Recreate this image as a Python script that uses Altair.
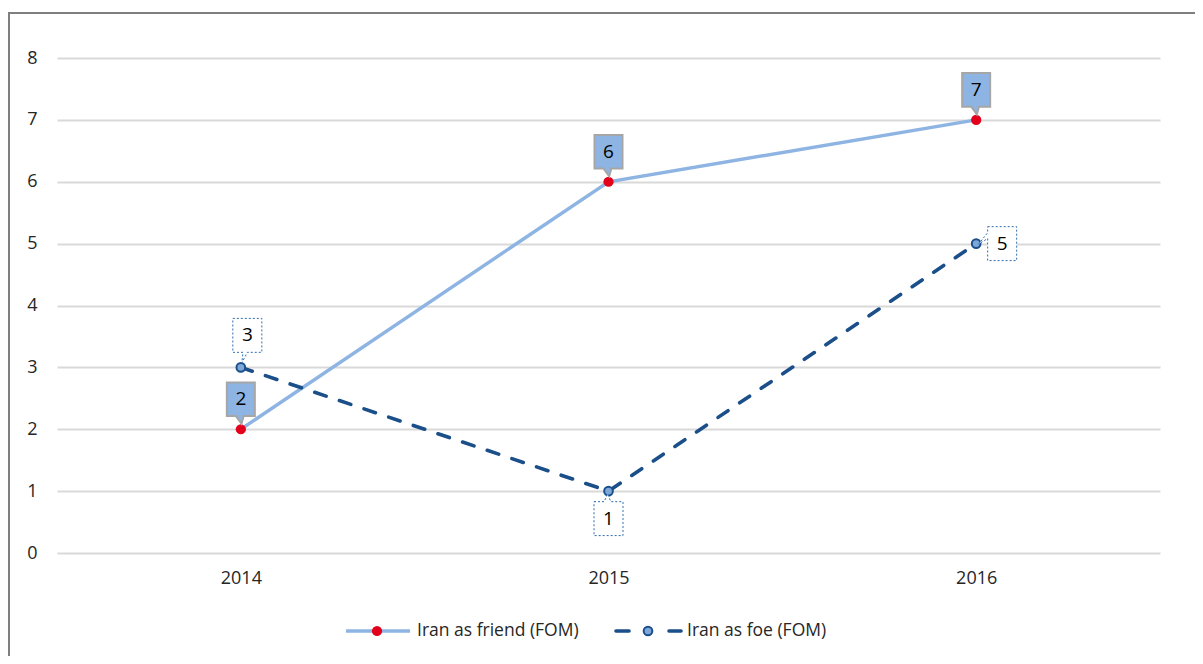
import altair as alt
import pandas as pd

years = ["2014", "2015", "2016"]
friend_values = [2, 6, 7]
foe_values = [3, 1, 5]
series_names = ["Iran as friend (FOM)", "Iran as foe (FOM)"]
y_ticks = [0, 1, 2, 3, 4, 5, 6, 7, 8]

FRIEND_LINE = "#8DB4E2"
FRIEND_DOT = "#E3001B"
FOE_LINE = "#1B4F8A"
FOE_DOT = "#7DA7D9"
FONT = "Open Sans"
TXT = "#262626"

df = pd.DataFrame({
    "year": years * 2,
    "value": friend_values + foe_values,
    "series": [series_names[0]] * 3 + [series_names[1]] * 3,
})

W, H = 1103, 495

x_enc = alt.X("year:O", scale=alt.Scale(type="point", padding=0.5),
              axis=alt.Axis(title=None, labelAngle=0, grid=False, domain=False, ticks=False,
                            labelPadding=16, labelFontSize=18, labelFont=FONT, labelColor=TXT))
y_enc = alt.Y("value:Q", scale=alt.Scale(domain=[0, 8], nice=False),
              axis=alt.Axis(title=None, values=y_ticks, grid=True, gridColor="#D9D9D9", gridWidth=2,
                            domain=False, ticks=False, labelPadding=20, labelFontSize=18,
                            labelFont=FONT, labelColor=TXT))

base = alt.Chart(df).encode(x=x_enc, y=y_enc)
is_friend = alt.datum.series == series_names[0]
is_foe = alt.datum.series == series_names[1]

friend_line = base.transform_filter(is_friend).mark_line(color=FRIEND_LINE, strokeWidth=3.4)
foe_line = base.transform_filter(is_foe).mark_line(color=FOE_LINE, strokeWidth=3.6,
                                                   strokeDash=[12, 14], strokeCap="round")
friend_pts = base.transform_filter(is_friend).mark_point(filled=True, color=FRIEND_DOT, size=105, opacity=1)
foe_pts = base.transform_filter(is_foe).mark_point(filled=True, fill=FOE_DOT, stroke=FOE_LINE,
                                                   strokeWidth=2, size=75, opacity=1)

# callout shapes (unit = half box width)
friend_box = "M-1,-1.2 L1,-1.2 L1,1.2 L0.2,1.2 L0.05,1.75 L-0.35,1.2 L-1,1.2 Z"
foe_above = "M-1,-1.17 L1,-1.17 L1,1.17 L0,1.17 L-0.38,1.9 L-0.3,1.17 L-1,1.17 Z"
foe_below = "M-1,-1.17 L-0.3,-1.17 L-0.05,-1.72 L0.15,-1.17 L1,-1.17 L1,1.17 L-1,1.17 Z"
foe_right = "M-1,-1.17 L1,-1.17 L1,1.17 L-1,1.17 L-1,-0.35 L-1.62,0.02 L-1,-0.75 Z"

friend_boxes = base.transform_filter(is_friend).mark_point(
    shape=friend_box, filled=True, fill=FRIEND_LINE, stroke="#A6A6A6", strokeWidth=2,
    size=784, opacity=1, yOffset=-30)
friend_text = base.transform_filter(is_friend).mark_text(
    font=FONT, fontSize=19, color="#000000", baseline="middle", yOffset=-30
).encode(text="value:Q")

def foe_label(year, shape, dx, dy):
    b = base.transform_filter(is_foe & (alt.datum.year == year))
    box = b.mark_point(shape=shape, filled=True, fill="white", stroke="#2E6DB0", strokeWidth=1,
                       strokeDash=[2, 2], size=841, opacity=1, xOffset=dx, yOffset=dy)
    txt = b.mark_text(font=FONT, fontSize=19, color="#000000", baseline="middle",
                      xOffset=dx, yOffset=dy).encode(text="value:Q")
    return box + txt

foe_labels = (foe_label(years[0], foe_above, 6.5, -32)
              + foe_label(years[1], foe_below, 0, 27.5)
              + foe_label(years[2], foe_right, 26, 0))

# outer frame
frame = alt.Chart(pd.DataFrame({"k": [0]})).mark_rect(
    fill="white", fillOpacity=0, stroke="#7F7F7F", strokeWidth=2
).encode(x=alt.value(-48), x2=alt.value(1250), y=alt.value(-45), y2=alt.value(700))

# legend
leg_y = 573
leg_df1 = pd.DataFrame({"name": [series_names[0]]})
leg_df2 = pd.DataFrame({"name": [series_names[1]]})
leg1_line = alt.Chart(leg_df1).mark_rule(color=FRIEND_LINE, strokeWidth=3.4).encode(
    x=alt.value(289), x2=alt.value(353), y=alt.value(leg_y))
leg1_pt = alt.Chart(leg_df1).mark_point(filled=True, color=FRIEND_DOT, size=105, opacity=1).encode(
    x=alt.value(320), y=alt.value(leg_y))
leg1_txt = alt.Chart(leg_df1).mark_text(font=FONT, fontSize=17.5, color=TXT, align="left",
                                        baseline="middle").encode(
    x=alt.value(360), y=alt.value(leg_y), text="name:N")
leg2_a = alt.Chart(leg_df2).mark_rule(color=FOE_LINE, strokeWidth=3.6, strokeCap="round").encode(
    x=alt.value(559), x2=alt.value(572), y=alt.value(leg_y))
leg2_b = alt.Chart(leg_df2).mark_rule(color=FOE_LINE, strokeWidth=3.6, strokeCap="round").encode(
    x=alt.value(612), x2=alt.value(624), y=alt.value(leg_y))
leg2_pt = alt.Chart(leg_df2).mark_point(filled=True, fill=FOE_DOT, stroke=FOE_LINE, strokeWidth=2,
                                        size=75, opacity=1).encode(x=alt.value(591), y=alt.value(leg_y))
leg2_txt = alt.Chart(leg_df2).mark_text(font=FONT, fontSize=17.5, color=TXT, align="left",
                                        baseline="middle").encode(
    x=alt.value(630), y=alt.value(leg_y), text="name:N")

chart = alt.layer(
    frame, friend_line, foe_line, friend_pts, foe_pts, friend_boxes, friend_text, foe_labels,
    leg1_line, leg1_pt, leg1_txt, leg2_a, leg2_b, leg2_pt, leg2_txt
).properties(
    width=W, height=H,
    background="white",
    autosize=alt.AutoSizeParams(type="none"),
    padding={"left": 49, "top": 50, "right": 35, "bottom": 103},
).configure_view(stroke=None, strokeWidth=0)

chart.save("out.html", embed_options={"renderer": "svg", "actions": False})
